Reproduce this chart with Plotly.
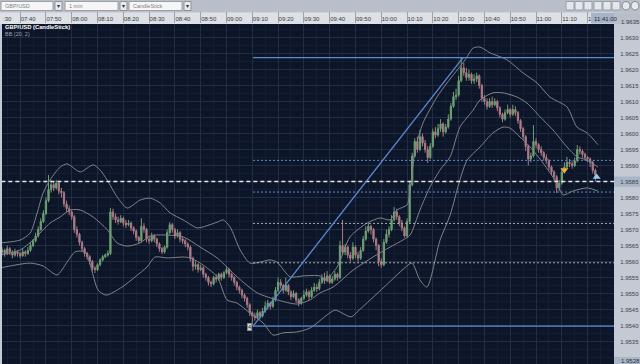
import pandas as pd
import plotly.graph_objects as go

# ---------------- data ----------------
SESSION_DATE = "2008-03-14"
FIRST_BAR = "07:33"

open_ = [
    1.95630, 1.95635, 1.95625, 1.95640, 1.95630, 1.95620, 1.95630, 1.95625, 1.95618, 1.95630,
    1.95625, 1.95635, 1.95650, 1.95665, 1.95680, 1.95700, 1.95725, 1.95750, 1.95790, 1.95825,
    1.95840, 1.95830, 1.95845, 1.95820, 1.95815, 1.95780, 1.95765, 1.95755, 1.95740, 1.95700,
    1.95685, 1.95660, 1.95640, 1.95625, 1.95615, 1.95600, 1.95580, 1.95575, 1.95590, 1.95605,
    1.95615, 1.95620, 1.95625, 1.95755, 1.95740, 1.95730, 1.95725, 1.95735, 1.95720, 1.95715,
    1.95720, 1.95705, 1.95695, 1.95675, 1.95665, 1.95710, 1.95700, 1.95670, 1.95665, 1.95680,
    1.95670, 1.95655, 1.95640, 1.95630, 1.95645, 1.95690, 1.95715, 1.95700, 1.95680, 1.95690,
    1.95670, 1.95665, 1.95655, 1.95645, 1.95610, 1.95585, 1.95590, 1.95575, 1.95580, 1.95560,
    1.95550, 1.95535, 1.95530, 1.95550, 1.95545, 1.95560, 1.95550, 1.95565, 1.95575, 1.95560,
    1.95550, 1.95535, 1.95520, 1.95510, 1.95495, 1.95485, 1.95465, 1.95440, 1.95430, 1.95425,
    1.95440, 1.95430, 1.95445, 1.95460, 1.95470, 1.95460, 1.95480, 1.95510, 1.95535, 1.95525,
    1.95510, 1.95525, 1.95505, 1.95490, 1.95500, 1.95480, 1.95470, 1.95485, 1.95495, 1.95505,
    1.95490, 1.95510, 1.95520, 1.95515, 1.95535, 1.95550, 1.95540, 1.95555, 1.95535, 1.95545,
    1.95560, 1.95550, 1.95650, 1.95630, 1.95645, 1.95620, 1.95610, 1.95645, 1.95620, 1.95610,
    1.95635, 1.95670, 1.95695, 1.95710, 1.95700, 1.95670, 1.95650, 1.95600, 1.95590, 1.95660,
    1.95685, 1.95700, 1.95730, 1.95755, 1.95740, 1.95720, 1.95705, 1.95680, 1.95725, 1.95840,
    1.95930, 1.95975, 1.95950, 1.95990, 1.95970, 1.95950, 1.95925, 1.95960, 1.96005, 1.95995,
    1.96015, 1.96030, 1.96005, 1.96020, 1.96045, 1.96085, 1.96115, 1.96120, 1.96165, 1.96205,
    1.96190, 1.96175, 1.96185, 1.96165, 1.96170, 1.96180, 1.96150, 1.96110, 1.96100, 1.96085,
    1.96100, 1.96090, 1.96100, 1.96080, 1.96060, 1.96045, 1.96065, 1.96075, 1.96060, 1.96075,
    1.96065, 1.96040, 1.96015, 1.95990, 1.95960, 1.95920, 1.95930, 1.95975, 1.95965, 1.95950,
    1.95940, 1.95925, 1.95915, 1.95895, 1.95880, 1.95865, 1.95830, 1.95845, 1.95880, 1.95895,
    1.95910, 1.95905, 1.95900, 1.95915, 1.95950, 1.95945, 1.95935, 1.95925, 1.95920, 1.95910, 1.95885,
]
high = [
    1.95645, 1.95640, 1.95650, 1.95645, 1.95635, 1.95640, 1.95635, 1.95630, 1.95640, 1.95635,
    1.95645, 1.95660, 1.95670, 1.95690, 1.95710, 1.95735, 1.95760, 1.95800, 1.95870, 1.95855,
    1.95850, 1.95855, 1.95850, 1.95830, 1.95820, 1.95790, 1.95775, 1.95760, 1.95745, 1.95710,
    1.95690, 1.95665, 1.95645, 1.95630, 1.95620, 1.95605, 1.95585, 1.95595, 1.95610, 1.95620,
    1.95625, 1.95635, 1.95767, 1.95765, 1.95750, 1.95740, 1.95745, 1.95740, 1.95730, 1.95730,
    1.95725, 1.95710, 1.95700, 1.95680, 1.95735, 1.95720, 1.95705, 1.95680, 1.95690, 1.95685,
    1.95675, 1.95660, 1.95645, 1.95650, 1.95700, 1.95723, 1.95720, 1.95705, 1.95700, 1.95695,
    1.95676, 1.95670, 1.95660, 1.95650, 1.95615, 1.95600, 1.95595, 1.95590, 1.95585, 1.95565,
    1.95555, 1.95540, 1.95555, 1.95560, 1.95565, 1.95565, 1.95570, 1.95583, 1.95580, 1.95565,
    1.95555, 1.95540, 1.95525, 1.95515, 1.95500, 1.95490, 1.95470, 1.95445, 1.95440, 1.95450,
    1.95445, 1.95455, 1.95475, 1.95480, 1.95475, 1.95490, 1.95520, 1.95550, 1.95545, 1.95530,
    1.95550, 1.95530, 1.95510, 1.95510, 1.95505, 1.95485, 1.95490, 1.95510, 1.95515, 1.95510,
    1.95520, 1.95533, 1.95530, 1.95545, 1.95560, 1.95565, 1.95570, 1.95560, 1.95555, 1.95570,
    1.95565, 1.95665, 1.95730, 1.95655, 1.95650, 1.95630, 1.95660, 1.95650, 1.95630, 1.95645,
    1.95680, 1.95710, 1.95720, 1.95715, 1.95705, 1.95675, 1.95655, 1.95610, 1.95670, 1.95700,
    1.95710, 1.95745, 1.95770, 1.95765, 1.95745, 1.95730, 1.95710, 1.95735, 1.95850, 1.95940,
    1.95985, 1.95990, 1.96010, 1.96000, 1.95980, 1.95960, 1.95970, 1.96015, 1.96020, 1.96030,
    1.96045, 1.96035, 1.96030, 1.96060, 1.96095, 1.96130, 1.96140, 1.96180, 1.96237, 1.96220,
    1.96205, 1.96200, 1.96190, 1.96185, 1.96190, 1.96185, 1.96155, 1.96120, 1.96110, 1.96110,
    1.96115, 1.96110, 1.96105, 1.96085, 1.96065, 1.96075, 1.96090, 1.96080, 1.96090, 1.96085,
    1.96070, 1.96045, 1.96020, 1.95995, 1.95965, 1.95940, 1.96026, 1.95985, 1.95970, 1.95960,
    1.95945, 1.95935, 1.95920, 1.95900, 1.95885, 1.95870, 1.95855, 1.95890, 1.95910, 1.95927,
    1.95920, 1.95915, 1.95925, 1.95964, 1.95960, 1.95950, 1.95940, 1.95930, 1.95925, 1.95915, 1.95890,
]
low = [
    1.95620, 1.95615, 1.95620, 1.95620, 1.95610, 1.95615, 1.95615, 1.95610, 1.95615, 1.95615,
    1.95620, 1.95630, 1.95645, 1.95660, 1.95675, 1.95695, 1.95720, 1.95745, 1.95785, 1.95815,
    1.95820, 1.95825, 1.95810, 1.95800, 1.95770, 1.95755, 1.95745, 1.95730, 1.95690, 1.95675,
    1.95650, 1.95630, 1.95615, 1.95605, 1.95590, 1.95570, 1.95564, 1.95570, 1.95585, 1.95600,
    1.95610, 1.95615, 1.95620, 1.95730, 1.95720, 1.95715, 1.95720, 1.95710, 1.95705, 1.95710,
    1.95695, 1.95685, 1.95665, 1.95655, 1.95660, 1.95690, 1.95660, 1.95655, 1.95660, 1.95660,
    1.95645, 1.95630, 1.95623, 1.95625, 1.95640, 1.95685, 1.95690, 1.95670, 1.95675, 1.95660,
    1.95655, 1.95645, 1.95635, 1.95600, 1.95570, 1.95575, 1.95565, 1.95570, 1.95550, 1.95540,
    1.95525, 1.95520, 1.95525, 1.95535, 1.95540, 1.95540, 1.95545, 1.95560, 1.95550, 1.95540,
    1.95525, 1.95510, 1.95500, 1.95485, 1.95475, 1.95455, 1.95430, 1.95398, 1.95415, 1.95420,
    1.95420, 1.95425, 1.95440, 1.95450, 1.95450, 1.95455, 1.95475, 1.95505, 1.95515, 1.95500,
    1.95505, 1.95495, 1.95480, 1.95485, 1.95470, 1.95460, 1.95465, 1.95480, 1.95490, 1.95480,
    1.95485, 1.95505, 1.95505, 1.95510, 1.95530, 1.95530, 1.95535, 1.95530, 1.95530, 1.95540,
    1.95540, 1.95545, 1.95620, 1.95620, 1.95610, 1.95600, 1.95605, 1.95610, 1.95600, 1.95605,
    1.95630, 1.95665, 1.95690, 1.95685, 1.95660, 1.95635, 1.95585, 1.95580, 1.95585, 1.95655,
    1.95675, 1.95695, 1.95725, 1.95730, 1.95710, 1.95695, 1.95675, 1.95675, 1.95720, 1.95835,
    1.95925, 1.95940, 1.95945, 1.95960, 1.95940, 1.95908, 1.95920, 1.95955, 1.95985, 1.95990,
    1.96005, 1.95990, 1.96000, 1.96015, 1.96040, 1.96080, 1.96105, 1.96115, 1.96160, 1.96180,
    1.96165, 1.96165, 1.96155, 1.96155, 1.96160, 1.96140, 1.96100, 1.96090, 1.96075, 1.96080,
    1.96080, 1.96085, 1.96070, 1.96050, 1.96035, 1.96040, 1.96060, 1.96050, 1.96055, 1.96055,
    1.96030, 1.96005, 1.95980, 1.95945, 1.95900, 1.95910, 1.95925, 1.95955, 1.95940, 1.95930,
    1.95915, 1.95905, 1.95885, 1.95870, 1.95850, 1.95814, 1.95820, 1.95840, 1.95875, 1.95890,
    1.95895, 1.95890, 1.95895, 1.95910, 1.95935, 1.95925, 1.95915, 1.95910, 1.95895, 1.95875, 1.95850,
]
close = [
    1.95635, 1.95625, 1.95640, 1.95630, 1.95620, 1.95630, 1.95625, 1.95618, 1.95630, 1.95625,
    1.95635, 1.95650, 1.95665, 1.95680, 1.95700, 1.95725, 1.95750, 1.95790, 1.95825, 1.95840,
    1.95830, 1.95845, 1.95820, 1.95815, 1.95780, 1.95765, 1.95755, 1.95740, 1.95700, 1.95685,
    1.95660, 1.95640, 1.95625, 1.95615, 1.95600, 1.95580, 1.95575, 1.95590, 1.95605, 1.95615,
    1.95620, 1.95625, 1.95755, 1.95740, 1.95730, 1.95725, 1.95735, 1.95720, 1.95715, 1.95720,
    1.95705, 1.95695, 1.95675, 1.95665, 1.95710, 1.95700, 1.95670, 1.95665, 1.95680, 1.95670,
    1.95655, 1.95640, 1.95630, 1.95645, 1.95690, 1.95715, 1.95700, 1.95680, 1.95690, 1.95670,
    1.95665, 1.95655, 1.95645, 1.95610, 1.95585, 1.95590, 1.95575, 1.95580, 1.95560, 1.95550,
    1.95535, 1.95530, 1.95550, 1.95545, 1.95560, 1.95550, 1.95565, 1.95575, 1.95560, 1.95550,
    1.95535, 1.95520, 1.95510, 1.95495, 1.95485, 1.95465, 1.95440, 1.95430, 1.95425, 1.95440,
    1.95430, 1.95445, 1.95460, 1.95470, 1.95460, 1.95480, 1.95510, 1.95535, 1.95525, 1.95510,
    1.95525, 1.95505, 1.95490, 1.95500, 1.95480, 1.95470, 1.95485, 1.95495, 1.95505, 1.95490,
    1.95510, 1.95520, 1.95515, 1.95535, 1.95550, 1.95540, 1.95555, 1.95535, 1.95545, 1.95560,
    1.95550, 1.95650, 1.95630, 1.95645, 1.95620, 1.95610, 1.95645, 1.95620, 1.95610, 1.95635,
    1.95670, 1.95695, 1.95710, 1.95700, 1.95670, 1.95650, 1.95600, 1.95590, 1.95660, 1.95685,
    1.95700, 1.95730, 1.95755, 1.95740, 1.95720, 1.95705, 1.95680, 1.95725, 1.95840, 1.95930,
    1.95975, 1.95950, 1.95990, 1.95970, 1.95950, 1.95925, 1.95960, 1.96005, 1.95995, 1.96015,
    1.96030, 1.96005, 1.96020, 1.96045, 1.96085, 1.96115, 1.96120, 1.96165, 1.96205, 1.96190,
    1.96175, 1.96185, 1.96165, 1.96170, 1.96180, 1.96150, 1.96110, 1.96100, 1.96085, 1.96100,
    1.96090, 1.96100, 1.96080, 1.96060, 1.96045, 1.96065, 1.96075, 1.96060, 1.96075, 1.96065,
    1.96040, 1.96015, 1.95990, 1.95960, 1.95920, 1.95930, 1.95975, 1.95965, 1.95950, 1.95940,
    1.95925, 1.95915, 1.95895, 1.95880, 1.95865, 1.95830, 1.95845, 1.95880, 1.95895, 1.95910,
    1.95905, 1.95900, 1.95915, 1.95950, 1.95945, 1.95935, 1.95925, 1.95920, 1.95910, 1.95885, 1.95870,
]

# Bollinger Bands (20, 2)
bb_upper_time = ["07:32:15", "07:40:00", "07:43:54", "07:46:36", "07:48:54", "07:51:36", "07:55:30",
                 "07:58:12", "08:03:18", "08:08:18", "08:11:00", "08:13:42", "08:17:36", "08:21:30",
                 "08:26:30", "08:30:24", "08:34:18", "08:38:06", "08:43:12", "08:48:36", "08:50:54",
                 "08:56:24", "08:58:42", "09:01:24", "09:05:18", "09:09:06", "09:13:00", "09:16:54",
                 "09:19:36", "09:24:42", "09:29:42", "09:36:18", "09:38:12", "09:42:54", "09:47:54",
                 "09:54:30", "09:59:30", "10:03:24", "10:06:06", "10:10:00", "10:11:12", "10:13:06",
                 "10:16:12", "10:21:36", "10:25:30", "10:32:30", "10:35:36", "10:38:18", "10:42:12",
                 "10:48:48", "10:55:00", "11:00:24", "11:05:24", "11:12:00", "11:15:54", "11:19:48",
                 "11:24:00"]
bb_upper = [1.95658, 1.95667, 1.95689, 1.95752, 1.95814, 1.95855, 1.95895,
            1.95905, 1.95880, 1.95902, 1.95886, 1.95855, 1.95802, 1.95767,
            1.95792, 1.95798, 1.95783, 1.95752, 1.95730, 1.95705, 1.95708,
            1.95723, 1.95730, 1.95708, 1.95636, 1.95595, 1.95598, 1.95605,
            1.95598, 1.95552, 1.95555, 1.95555, 1.95542, 1.95583, 1.95677,
            1.95720, 1.95736, 1.95730, 1.95761, 1.95777, 1.95823, 1.95948,
            1.96033, 1.96114, 1.96158, 1.96230, 1.96267, 1.96270, 1.96252,
            1.96230, 1.96189, 1.96158, 1.96114, 1.96083, 1.96020, 1.96002,
            1.95965]

bb_mid_time = ["07:32:15", "07:40:00", "07:45:00", "07:51:36", "07:55:30", "07:59:24", "08:03:18",
               "08:08:18", "08:13:42", "08:17:36", "08:21:30", "08:26:30", "08:30:24", "08:34:18",
               "08:43:12", "08:49:48", "08:56:24", "09:04:06", "09:11:54", "09:19:36", "09:27:24",
               "09:32:24", "09:36:18", "09:41:18", "09:49:06", "09:56:48", "10:03:24", "10:08:24",
               "10:11:12", "10:15:00", "10:18:54", "10:22:48", "10:26:42", "10:30:30", "10:35:36",
               "10:38:18", "10:43:18", "10:47:12", "10:52:36", "10:56:30", "11:01:36", "11:06:36",
               "11:12:00", "11:15:54", "11:19:48", "11:24:00"]
bb_mid = [1.95620, 1.95636, 1.95667, 1.95720, 1.95739, 1.95761, 1.95761,
          1.95739, 1.95700, 1.95658, 1.95648, 1.95658, 1.95680, 1.95683,
          1.95677, 1.95645, 1.95611, 1.95552, 1.95502, 1.95480, 1.95467,
          1.95480, 1.95502, 1.95520, 1.95573, 1.95614, 1.95645, 1.95667,
          1.95683, 1.95761, 1.95833, 1.95886, 1.95927, 1.96020, 1.96073,
          1.96105, 1.96127, 1.96127, 1.96114, 1.96095, 1.96052, 1.96011,
          1.95958, 1.95927, 1.95917, 1.95895]

bb_lower_time = ["07:32:15", "07:43:54", "07:48:54", "07:54:18", "07:58:12", "08:01:18", "08:05:12",
                 "08:10:12", "08:13:18", "08:19:30", "08:24:36", "08:29:12", "08:32:18", "08:37:00",
                 "08:43:12", "08:45:54", "08:49:48", "08:56:24", "09:00:12", "09:04:06", "09:09:06",
                 "09:14:12", "09:18:06", "09:21:54", "09:27:24", "09:32:24", "09:39:00", "09:42:06",
                 "09:48:18", "09:51:24", "10:01:06", "10:10:24", "10:12:00", "10:15:00", "10:17:42",
                 "10:22:48", "10:26:42", "10:30:30", "10:33:18", "10:38:18", "10:43:18", "10:47:12",
                 "10:49:54", "10:53:48", "10:57:42", "11:02:42", "11:08:06", "11:10:30", "11:14:18",
                 "11:19:48", "11:24:00"]
bb_lower = [1.95580, 1.95595, 1.95586, 1.95558, 1.95598, 1.95630, 1.95630,
            1.95511, 1.95495, 1.95520, 1.95552, 1.95583, 1.95614, 1.95611,
            1.95614, 1.95611, 1.95595, 1.95552, 1.95480, 1.95470, 1.95439,
            1.95408, 1.95370, 1.95377, 1.95380, 1.95392, 1.95433, 1.95448,
            1.95427, 1.95448, 1.95520, 1.95589, 1.95595, 1.95542, 1.95520,
            1.95667, 1.95745, 1.95855, 1.95917, 1.95958, 1.96002, 1.96020,
            1.96017, 1.95989, 1.95958, 1.95908, 1.95845, 1.95808, 1.95820,
            1.95830, 1.95820]

# Fibonacci retracement drawn on the chart
fib_anchor_time = ["09:10:18", "10:31:42"]          # swing low, swing high
fib_anchor_price = [1.95398, 1.96237]
fib_level_price = [1.95916, 1.95817, 1.95719, 1.95596]  # 38.2, 50, 61.8, 76.4 %
fib_line_end = "11:45:00"
ref_line_price = 1.95850                            # white dashed horizontal line
marker_label_time, marker_label_price, marker_label_text = "09:08:48", 1.95395, "4"

signal_time = ["11:11:00", "11:23:30"]
signal_price = [1.95886, 1.95864]

x_tick_labels = ["07:40", "07:50", "08:00", "08:10", "08:20", "08:30", "08:40", "08:50",
                 "09:00", "09:10", "09:20", "09:30", "09:40", "09:50", "10:00", "10:10",
                 "10:20", "10:30", "10:40", "10:50", "11:00", "11:10", "11:20"]
y_tick_values = [1.9535, 1.9540, 1.9545, 1.9550, 1.9555, 1.9560, 1.9565, 1.9570, 1.9575,
                 1.9580, 1.9585, 1.9590, 1.9595, 1.9600, 1.9605, 1.9610, 1.9615, 1.9620,
                 1.9625, 1.9630]
y_tick_labels = ["1.9535", "1.9540", "1.9545", "1.9550", "1.9555", "1.9560", "1.9565", "1.9570",
                 "1.9575", "1.9580", "1.9585", "1.9590", "1.9595", "1.9600", "1.9605", "1.9610",
                 "1.9615", "1.9620", "1.9625", "1.9630"]
x_range = ["07:32:58", "11:30:14"]
y_range = [1.952797, 1.963422]

assert len(open_) == len(high) == len(low) == len(close)


def ts(hms):
    return f"{SESSION_DATE} {hms}"


times = pd.date_range(ts(FIRST_BAR), periods=len(close), freq="min")

# ---------------- figure ----------------
W, H = 640, 364
ML, MR, MT, MB = 2, 26, 24, 0
PW, PH = W - ML - MR, H - MT - MB


def px(xp):   # pixel -> paper x (decoration placement only)
    return (xp - ML) / PW


def py(yp):   # pixel -> paper y
    return (H - MB - yp) / PH


FONT = "Liberation Sans, Arial, sans-serif"
BLUE = "#5b8bd3"

fig = go.Figure()

band_style = dict(color="#80838a", width=1, shape="spline", smoothing=0.7)
for bt, bv in ((bb_upper_time, bb_upper), (bb_mid_time, bb_mid), (bb_lower_time, bb_lower)):
    fig.add_trace(go.Scatter(x=[ts(t) for t in bt], y=bv, mode="lines", line=band_style,
                             hoverinfo="skip", showlegend=False))

fig.add_trace(go.Candlestick(
    x=times, open=open_, high=high, low=low, close=close,
    increasing=dict(line=dict(color="#6f9f73", width=1), fillcolor="#66a86b"),
    decreasing=dict(line=dict(color="#a97a84", width=1), fillcolor="#c0828b"),
    whiskerwidth=0, showlegend=False, hoverinfo="skip"))

fig.add_trace(go.Scatter(
    x=[ts(t) for t in signal_time], y=signal_price, mode="markers",
    marker=dict(symbol=["triangle-down", "triangle-up"], size=7,
                color=["#f2a93b", "#8fcdf4"], line=dict(width=0)),
    hoverinfo="skip", showlegend=False))

shapes = []
# white dashed reference line (full width)
shapes.append(dict(type="line", xref="x", yref="y", x0=ts("07:30:00"), x1=ts(fib_line_end),
                   y0=ref_line_price, y1=ref_line_price,
                   line=dict(color="#e6e6e6", width=1.5, dash="4px,3px")))
# fibonacci retracement
for p in fib_anchor_price:
    shapes.append(dict(type="line", xref="x", yref="y", x0=ts(fib_anchor_time[0]), x1=ts(fib_line_end),
                       y0=p, y1=p, line=dict(color=BLUE, width=1.2)))
fib_colors = [BLUE, BLUE, "#a9adb4", "#a9adb4"]
for p, c in zip(fib_level_price, fib_colors):
    shapes.append(dict(type="line", xref="x", yref="y", x0=ts(fib_anchor_time[0]), x1=ts(fib_line_end),
                       y0=p, y1=p, line=dict(color=c, width=1, dash="2px,2px")))
shapes.append(dict(type="line", xref="x", yref="y",
                   x0=ts(fib_anchor_time[0]), x1=ts(fib_anchor_time[1]),
                   y0=fib_anchor_price[0], y1=fib_anchor_price[1],
                   line=dict(color=BLUE, width=1.3)))


def prect(x0, y0, x1, y1, fill, line=None, layer="below"):
    return dict(type="rect", xref="paper", yref="paper", x0=px(x0), x1=px(x1), y0=py(y1), y1=py(y0),
                fillcolor=fill, line=dict(color=line or fill, width=1 if line else 0), layer=layer)


# toolbar & header strips
shapes.append(prect(0, 0, 640, 12.5, "#b8bfc9"))
shapes.append(prect(0, 12.5, 614, 24, "#dde0e5"))
shapes.append(prect(614, 12.5, 640, 24, "#b8bfc9"))
# dropdowns
for x0, x1, ax0, ax1 in ((1, 53, 55, 62), (65, 118, 120, 127), (129, 182, 184, 191)):
    shapes.append(prect(x0, 1.5, x1, 10.5, "#f6f6f6", "#9b9fa6"))
    shapes.append(prect(ax0, 1.5, ax1, 10.5, "#e8e9eb", "#8e939a"))
# tool icons
for x0 in (566, 575, 584, 594, 603, 612):
    shapes.append(prect(x0, 1.5, x0 + 8, 10, "#e4e7eb", "#9aa0a8"))
for x0 in (622, 631):
    shapes.append(dict(type="circle", xref="paper", yref="paper", x0=px(x0), x1=px(x0 + 8),
                       y0=py(10), y1=py(1.5), fillcolor="#e4e7eb",
                       line=dict(color="#80868f", width=1), layer="below"))
# highlighted axis boxes
shapes.append(prect(591, 13, 614, 23.5, "#a7b3c7", layer="above"))
shapes.append(prect(614, 176.5, 640, 187, "#a9b6c9"))
shapes.append(prect(614, 357, 640, 364, "#a9b6c9"))

annotations = []


def ptext(x, y, text, size=6, color="#3c3c3c", bold=False, anchor="left"):
    annotations.append(dict(xref="paper", yref="paper", x=px(x), y=py(y), text=f"<b>{text}</b>" if bold else text,
                            showarrow=False, xanchor=anchor, yanchor="middle",
                            font=dict(family=FONT, size=size, color=color)))


ptext(3, 6.2, "GBP/USD", 5.5, "#7c7f85")
ptext(67, 6.2, "1 min", 5.5, "#7c7f85")
ptext(131, 6.2, "CandleStick", 5.5, "#7c7f85")
for ax in (58.5, 123.5, 187.5):
    ptext(ax, 6.2, "▾", 6, "#333333", anchor="center")
ptext(1, 18.5, ":30", 6, "#3a3a3a")
ptext(592, 18.5, "11:41:00", 6, "#1d2433")
ptext(619, 21.7, "1.9635", 6, "#404040")
ptext(619, 360.8, "1.9528", 6, "#2a2f38")
ptext(2.5, 27.5, "GBP/USD (CandleStick)", 5.8, "#ffffff", bold=True)
ptext(2.5, 34, "BB (20, 2)", 5.5, "#9aa1ab")

annotations.append(dict(xref="x", yref="y", x=ts(marker_label_time), y=marker_label_price,
                        text=marker_label_text, showarrow=False, xanchor="center", yanchor="middle",
                        bgcolor="#d9d9d9", bordercolor="#8a8a8a", borderwidth=1, borderpad=0,
                        font=dict(family=FONT, size=5.5, color="#222222")))

fig.update_layout(
    width=W, height=H,
    margin=dict(l=ML, r=MR, t=MT, b=MB, pad=0),
    paper_bgcolor="#c4cad3",
    plot_bgcolor="#0d1628",
    showlegend=False,
    font=dict(family=FONT, size=6, color="#3c3c3c"),
    shapes=shapes,
    annotations=annotations,
    xaxis=dict(
        type="date", range=[ts(x_range[0]), ts(x_range[1])], side="top",
        tickmode="array", tickvals=[ts(t + ":00") for t in x_tick_labels], ticktext=x_tick_labels,
        ticks="outside", ticklen=11, tickwidth=1, tickcolor="#9ba2ac",
        ticklabelposition="outside right",
        tickfont=dict(family=FONT, size=6, color="#3a3a3a"),
        showgrid=True, gridcolor="#222d44", gridwidth=1,
        minor=dict(dtick=300000, showgrid=True, gridcolor="#141d31", gridwidth=1),
        zeroline=False, showline=False, rangeslider=dict(visible=False), fixedrange=True,
    ),
    yaxis=dict(
        side="right", range=y_range,
        tickmode="array", tickvals=y_tick_values, ticktext=y_tick_labels,
        ticks="outside", ticklen=4, tickcolor="rgba(0,0,0,0)",
        tickfont=dict(family=FONT, size=6, color="#404040"),
        showgrid=True, gridcolor="#222d44", gridwidth=1,
        minor=dict(dtick=0.00025, showgrid=True, gridcolor="#141d31", gridwidth=1),
        zeroline=False, showline=False, fixedrange=True,
    ),
)

fig.write_html("out.html", config={"displayModeBar": False},
               post_script="document.body.style.margin='0px';document.body.style.overflow='hidden';")
